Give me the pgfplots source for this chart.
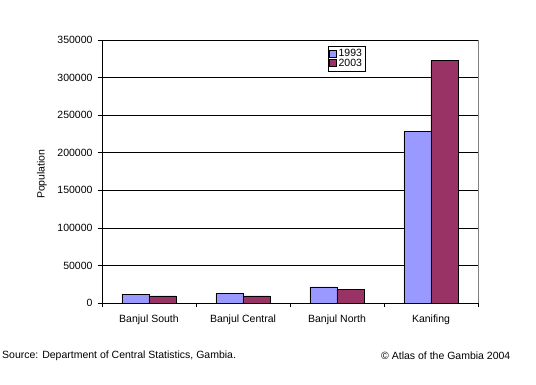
\documentclass[border=0pt]{standalone}
\usepackage{pgfplots}
\pgfplotsset{compat=1.18}
\usepackage{fontspec}
\setmainfont{Liberation Sans}
\definecolor{c93}{HTML}{9999FF}
\definecolor{c03}{HTML}{993366}
\begin{document}
\begin{tikzpicture}
\begin{axis}[
  name=ax,
  scale only axis, width=376pt, height=263pt,
  xmin=-0.5, xmax=3.5, ymin=0, ymax=350000,
  ybar=0pt, bar width=27pt,
  xtick={0,1,2,3},
  xticklabels={Banjul South,Banjul Central,Banjul North,Kanifing},
  major x tick style={draw=none},
  minor xtick={-0.5,0.5,1.5,2.5,3.5},
  minor tick length=4pt,
  ytick={0,50000,...,350000},
  scaled y ticks=false,
  yticklabel style={/pgf/number format/fixed,/pgf/number format/1000 sep={}, xshift=-2pt},
  /pgf/number format/assume math mode=true,
  tick align=outside, tick pos=left,
  major tick length=4pt,
  tick style={black, line width=0.6pt},
  ymajorgrids, grid style={black, line width=0.6pt},
  axis line style={draw=none},
  ticklabel style={font=\fontsize{10.5}{12}\selectfont},
  ylabel={Population},
  ylabel style={font=\fontsize{10.5}{12}\selectfont, at={(axis description cs:-0.16,0.49)}, anchor=center},
  xticklabel style={yshift=-4pt},
  legend style={at={(axis description cs:0.601,0.977)}, anchor=north west, draw=black, line width=0.5pt,
    font=\fontsize{10.5}{10}\selectfont, inner sep=1pt, row sep=-3pt, cells={anchor=west}},
  legend cell align=left,
  legend image code/.code={\draw[#1, line width=0.4pt] (0pt,-3pt) rectangle (7pt,4pt);},
  clip=false,
]
\addplot[fill=c93, draw=black, line width=0.6pt] coordinates {(0,11000) (1,12400) (2,21300) (3,228200)};
\addplot[fill=c03, draw=black, line width=0.6pt] coordinates {(0,9500) (1,9500) (2,18500) (3,322700)};
\legend{1993,2003}
\draw[black, line width=0.6pt] (axis cs:-0.5,0) -- (axis cs:-0.5,350000);
\draw[black, line width=0.6pt] (axis cs:-0.5,0) -- (axis cs:3.5,0);
\draw[gray, line width=0.6pt] (axis cs:3.5,0) -- (axis cs:3.5,350000);
\end{axis}
\path (ax.south west) ++(-102pt,-82pt) rectangle ++(536pt,385pt);
\node[anchor=west, font=\fontsize{10.5}{12}\selectfont, inner sep=0pt] at ([shift={(-100pt,-53pt)}]ax.south west) {Source: Department of Central Statistics, Gambia.};
\node[anchor=west, font=\fontsize{10.5}{12}\selectfont, inner sep=0pt] at ([shift={(279pt,-53pt)}]ax.south west) {\textcopyright{} Atlas of the Gambia 2004};
\end{tikzpicture}
\end{document}
